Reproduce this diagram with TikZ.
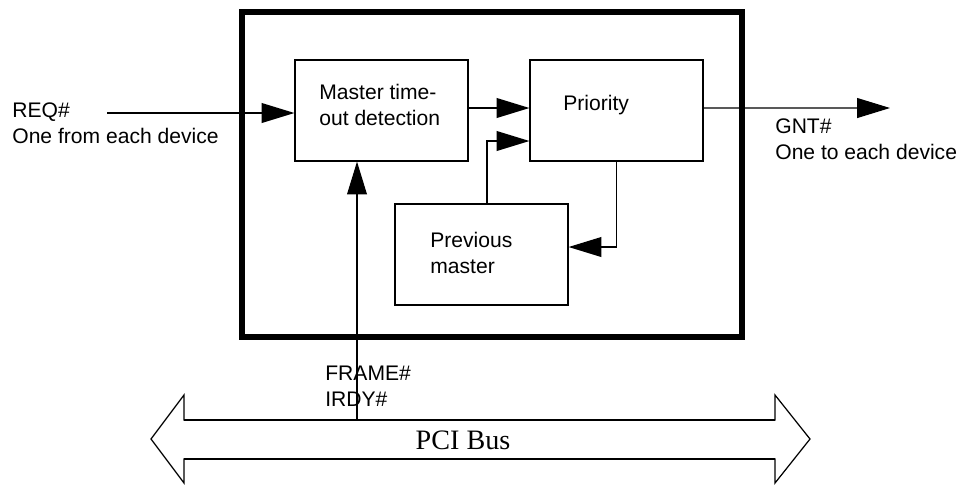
\documentclass[tikz,border=0pt]{standalone}
\usepackage{fontspec}
\setmainfont{Liberation Serif}
\setsansfont{Liberation Sans}
\usetikzlibrary{arrows.meta, positioning}

\begin{document}
\begin{tikzpicture}[x=0.02cm, y=-0.02cm, font=\sffamily\fontsize{12}{14.5}\selectfont,
  blk/.style={draw, line width=0.7pt, minimum width=3.46cm, minimum height=2.02cm, inner sep=0pt},
  txt/.style={anchor=west, align=left, inner sep=0pt},
  sig/.style={line width=0.7pt, -{Triangle[length=18.7pt, width=11.3pt]}}]
  \useasboundingbox (0,0) rectangle (962,485);
  % arbiter frame
  \draw[line width=3pt] (242,12) rectangle (742,337);
  \node[blk] (mtd)  at (381.5,110.5) {};
  \node[blk] (prio) at (616.5,110.5) {};
  \node[blk] (prev) at (481.5,254.5) {};
  \node[txt] (mtdtxt)  at (319,105) {Master time-\\out detection};
  \node[txt] (priotxt) at (563,105) {Priority};
  \node[txt] (prevtxt) at (430,253) {Previous\\master};
  % PCI bus
  \draw[line width=0.7pt] (151,439) -- (184,395) -- (184,420) -- (775,420) -- (775,395)
    -- (810,439) -- (775,483) -- (775,459) -- (184,459) -- (184,483) -- cycle;
  \draw[line width=1.3pt] (184,420) -- (775,420);
  \draw[line width=1.3pt] (184,459) -- (775,459);
  \node (bus) at (463,440) {\rmfamily\fontsize{16}{18}\selectfont PCI Bus};
  % signals
  \coordinate (reqin)  at (107,113);
  \coordinate (gntout) at (890,108);
  \coordinate (busin)  at (357,420);
  \node[txt] (reqtxt)   at (12,123)  {REQ\#\\One from each device};
  \node[txt] (gnttxt)   at (775,139) {GNT\#\\One to each device};
  \node[txt] (frametxt) at (325,386) {FRAME\#\\IRDY\#};
  \draw[sig] (reqin) -- (reqin -| mtd.west);
  \draw[sig] ([yshift=0.05cm]mtd.east) -- ([yshift=0.05cm]prio.west);
  \draw[sig] ([yshift=0.05cm]prio.east) -- (gntout);
  \draw[sig] ([xshift=0.11cm]prev.north) |- ([yshift=-0.61cm]prio.west);
  \draw[sig] (prio.south) |- ([yshift=0.15cm]prev.east);
  \draw[sig, line width=0.6pt] (busin) -- (busin |- mtd.south);
\end{tikzpicture}
\end{document}
